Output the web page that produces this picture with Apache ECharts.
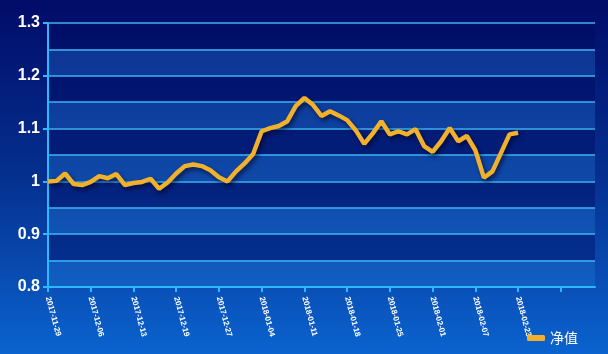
<!DOCTYPE html>
<html>
<head>
<meta charset="utf-8">
<script src="https://cdn.jsdelivr.net/npm/echarts@6/dist/echarts.min.js"></script>
<style>
    html, body {margin:0; padding:0;}
    #chart {width:608px; height:354px;}
</style>
</head>
<body>
<div id="chart"></div>
<script>
// 日期（交易日），后面补空位让坐标轴留白
var dates = [
    '2017-11-29','2017-11-30','2017-12-01','2017-12-04','2017-12-05',
    '2017-12-06','2017-12-07','2017-12-08','2017-12-11','2017-12-12',
    '2017-12-13','2017-12-14','2017-12-15','2017-12-17','2017-12-18',
    '2017-12-19','2017-12-20','2017-12-21','2017-12-22','2017-12-26',
    '2017-12-27','2017-12-28','2017-12-29','2018-01-02','2018-01-03',
    '2018-01-04','2018-01-05','2018-01-08','2018-01-09','2018-01-10',
    '2018-01-11','2018-01-12','2018-01-15','2018-01-16','2018-01-17',
    '2018-01-18','2018-01-19','2018-01-22','2018-01-23','2018-01-24',
    '2018-01-25','2018-01-26','2018-01-29','2018-01-30','2018-01-31',
    '2018-02-01','2018-02-02','2018-02-03','2018-02-05','2018-02-06',
    '2018-02-07','2018-02-08','2018-02-09','2018-02-12','2018-02-22',
    '2018-02-23'
];
var padding = ['','','','','','','','',''];
// 净值
var netValue = [
    1.000, 1.001, 1.015, 0.995, 0.993,
    0.999, 1.010, 1.006, 1.014, 0.993,
    0.997, 0.999, 1.005, 0.986, 0.998,
    1.015, 1.029, 1.032, 1.029, 1.021,
    1.008, 1.000, 1.019, 1.034, 1.052,
    1.095, 1.101, 1.105, 1.114, 1.143,
    1.158, 1.145, 1.124, 1.133, 1.125,
    1.116, 1.097, 1.071, 1.091, 1.114,
    1.089, 1.095, 1.089, 1.099, 1.067,
    1.056, 1.076, 1.101, 1.076, 1.086,
    1.059, 1.007, 1.019, 1.054, 1.089,
    1.092
];
var yLabels = ['0.8','0.9','1','1.1','1.2','1.3'];

var cats = dates.concat(padding);

var option = {
    backgroundColor: new echarts.graphic.LinearGradient(0, 0, 0, 1, [
        {offset: 0, color: '#010b68'},
        {offset: 0.5, color: '#05308f'},
        {offset: 1, color: '#0b63cf'}
    ]),
    animation: false,
    grid: {left: 48, right: 13, top: 23, bottom: 67},
    legend: {
        data: ['净值'],
        right: 25, bottom: 4,
        icon: 'roundRect',
        itemWidth: 18, itemHeight: 6, itemGap: 8,
        textStyle: {color: '#ffffff', fontSize: 14, fontFamily: 'Noto Sans CJK SC'}
    },
    xAxis: {
        type: 'category',
        boundaryGap: false,
        data: cats,
        axisLine: {lineStyle: {color: '#2cb8ff', width: 2}},
        axisTick: {interval: 4, length: 5, lineStyle: {color: '#2cb8ff', width: 2}},
        axisLabel: {
            interval: 4, rotate: -75, color: '#ffffff', fontSize: 8,
            fontWeight: 'bold', fontFamily: 'Liberation Sans', margin: 10
        },
        splitLine: {show: false}
    },
    yAxis: [{
        type: 'value',
        min: 0.8, max: 1.3, interval: 0.1,
        axisLine: {show: true, lineStyle: {color: '#2cb8ff', width: 2}},
        axisTick: {show: true, length: 5, lineStyle: {color: '#2cb8ff', width: 2}},
        axisLabel: {
            color: '#ffffff', fontSize: 16, fontWeight: 'bold',
            fontFamily: 'Liberation Sans', margin: 8,
            formatter: function (v) {
                var idx = Math.round((v - 0.8) * 10);
                return yLabels[idx] || '';
            }
        },
        splitLine: {show: false}
    }, {
        type: 'value',
        position: 'left',
        min: 0.8, max: 1.3, interval: 0.05,
        axisLine: {show: false},
        axisTick: {show: false},
        axisLabel: {show: false},
        splitLine: {show: true, lineStyle: {color: '#3bb4f2', width: 1.5}},
        splitArea: {show: true, areaStyle: {color: ['rgba(40,130,225,0.3)', 'rgba(0,10,95,0.4)']}}
    }],
    series: [{
        name: '净值',
        type: 'line',
        data: netValue,
        showSymbol: false,
        symbol: 'none',
        itemStyle: {color: '#f2b12a'},
        lineStyle: {
            color: '#f2b12a', width: 4.5,
            shadowColor: 'rgba(0,0,30,0.6)', shadowBlur: 4,
            shadowOffsetX: 2, shadowOffsetY: 3
        }
    }]
};

var myChart = echarts.init(document.getElementById('chart'));
myChart.setOption(option);
</script>
</body>
</html>
